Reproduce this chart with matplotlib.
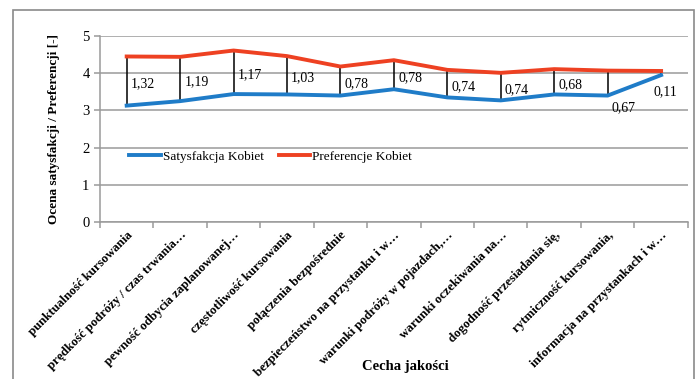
# satysfakcja vs preferencje kobiet - wykres liniowy z liniami roznic

import numpy as np
import matplotlib.pyplot as plt
from matplotlib.patches import Rectangle

categories = [
    "punktualność kursowania", "prędkość podróży / czas trwania…",
    "pewność odbycia zaplanowanej…", "częstotliwość kursowania",
    "połączenia bezpośrednie", "bezpieczeństwo na przystanku i w…",
    "warunki podróży w pojazdach,…", "warunki oczekiwania na…",
    "dogodność przesiadania się,", "rytmiczność kursowania,",
    "informacja na przystankach i w…",
]
satysfakcja = [3.13, 3.25, 3.44, 3.43, 3.40, 3.57, 3.35, 3.27, 3.43, 3.40, 3.95]
preferencje = [4.45, 4.44, 4.61, 4.46, 4.18, 4.35, 4.09, 4.01, 4.11, 4.07, 4.06]
roznice = ["1,32", "1,19", "1,17", "1,03", "0,78", "0,78", "0,74", "0,74", "0,68", "0,67", "0,11"]

plt.rcParams.update({
    "font.family": "serif",
    "font.serif": ["Liberation Serif", "DejaVu Serif"],
    "font.size": 10,
})
BLUE, RED, GRID = "#1f7cc8", "#ee4122", "#9a9a9a"

fig = plt.figure(figsize=(6.99, 3.79), dpi=100)
ax = fig.add_axes([0.143, 0.414, 0.841, 0.491])

x = np.arange(len(categories))
ax.vlines(x, satysfakcja, preferencje, color="black", lw=1.1, zorder=2)
ax.plot(x, satysfakcja, color=BLUE, lw=2.8, label="Satysfakcja Kobiet", zorder=3)
ax.plot(x, preferencje, color=RED, lw=2.8, label="Preferencje Kobiet", zorder=3)

# etykiety roznic
for i, t in enumerate(roznice):
    mid = (satysfakcja[i] + preferencje[i]) / 2
    if i == 9:
        ax.annotate(t, (x[i], satysfakcja[i]), xytext=(3, -4), textcoords="offset points",
                    ha="left", va="top")
    elif i == 10:
        ax.annotate(t, (x[i], satysfakcja[i]), xytext=(3, -7), textcoords="offset points",
                    ha="center", va="top")
    else:
        ax.annotate(t, (x[i], mid), xytext=(3, -2), textcoords="offset points",
                    ha="left", va="center")

ax.set_xlim(-0.5, len(categories) - 0.5)
ax.set_ylim(0, 5)
ax.set_yticks(range(6))
ax.yaxis.grid(True, color=GRID, lw=1.1)
ax.set_axisbelow(True)
for s in ("top", "right"):
    ax.spines[s].set_visible(False)
for s in ("left", "bottom"):
    ax.spines[s].set_color(GRID)
    ax.spines[s].set_linewidth(1.1)

ax.set_xticks(x)
ax.set_xticklabels(categories, rotation=45, ha="right", rotation_mode="anchor",
                   fontweight="bold", fontsize=9.3)
ax.set_xticks(np.arange(-0.5, len(categories)), minor=True)
ax.tick_params(axis="x", which="major", length=0, pad=5)
ax.tick_params(axis="x", which="minor", length=4, color=GRID, width=1.1)
ax.tick_params(axis="y", length=4, color=GRID, width=1.1, labelsize=10.5)

ax.set_ylabel("Ocena satysfakcji / Preferencji [-]", fontweight="bold", fontsize=9.5, labelpad=16)
fig.text(0.58, 0.032, "Cecha jakości", ha="center", va="center", fontweight="bold", fontsize=10.5)

ax.legend(loc="center left", bbox_to_anchor=(0.03, 0.35), ncol=2, frameon=False,
          handlelength=2.4, handletextpad=0.15, columnspacing=1.1, fontsize=9.5)

# ramka wokol calego wykresu
fig.patches.append(Rectangle((0.019, -0.05), 0.974, 1.024, transform=fig.transFigure,
                             fill=False, edgecolor="#8a8a8a", lw=1.2))

fig.savefig("out.png", dpi=100)
